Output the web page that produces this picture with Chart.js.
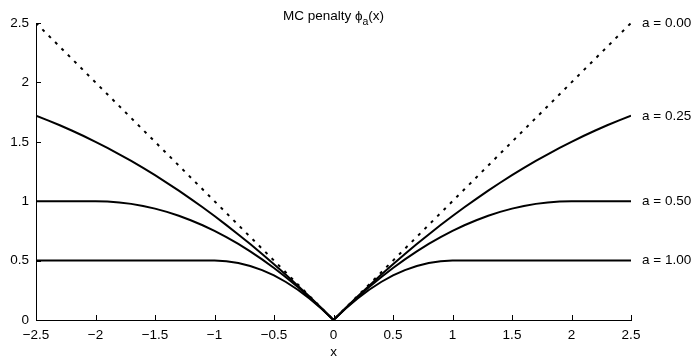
<!DOCTYPE html>
<html>
<head>
<meta charset="utf-8">
<script src="https://cdn.jsdelivr.net/npm/chart.js@4/dist/chart.umd.min.js"></script>
<style>
  html, body { margin: 0; padding: 0; background: #fff; }
  #wrap { width: 700px; height: 361px; position: relative; }
</style>
</head>
<body>
<div id="wrap"><canvas id="c" width="700" height="361"></canvas></div>
<script>
// x positions (step 0.1 from -2.5 to 2.5)
const xValues = [-2.5,-2.4,-2.3,-2.2,-2.1,-2.0,-1.9,-1.8,-1.7,-1.6,-1.5,-1.4,-1.3,-1.2,-1.1,-1.0,-0.9,-0.8,-0.7,-0.6,-0.5,-0.4,-0.3,-0.2,-0.1,0,
  0.1,0.2,0.3,0.4,0.5,0.6,0.7,0.8,0.9,1.0,1.1,1.2,1.3,1.4,1.5,1.6,1.7,1.8,1.9,2.0,2.1,2.2,2.3,2.4,2.5];

const seriesA000 = [2.5,2.4,2.3,2.2,2.1,2.0,1.9,1.8,1.7,1.6,1.5,1.4,1.3,1.2,1.1,1.0,0.9,0.8,0.7,0.6,0.5,0.4,0.3,0.2,0.1,0,
  0.1,0.2,0.3,0.4,0.5,0.6,0.7,0.8,0.9,1.0,1.1,1.2,1.3,1.4,1.5,1.6,1.7,1.8,1.9,2.0,2.1,2.2,2.3,2.4,2.5];

const seriesA025 = [1.719,1.68,1.639,1.595,1.549,1.5,1.449,1.395,1.339,1.28,1.219,1.155,1.089,1.02,0.949,0.875,0.799,0.72,0.639,0.555,0.469,0.38,0.289,0.195,0.099,0,
  0.099,0.195,0.289,0.38,0.469,0.555,0.639,0.72,0.799,0.875,0.949,1.02,1.089,1.155,1.219,1.28,1.339,1.395,1.449,1.5,1.549,1.595,1.639,1.68,1.719];

const seriesA050 = [1,1,1,1,1,1,0.9975,0.99,0.9775,0.96,0.9375,0.91,0.8775,0.84,0.7975,0.75,0.6975,0.64,0.5775,0.51,0.4375,0.36,0.2775,0.19,0.0975,0,
  0.0975,0.19,0.2775,0.36,0.4375,0.51,0.5775,0.64,0.6975,0.75,0.7975,0.84,0.8775,0.91,0.9375,0.96,0.9775,0.99,0.9975,1,1,1,1,1,1];

const seriesA100 = [0.5,0.5,0.5,0.5,0.5,0.5,0.5,0.5,0.5,0.5,0.5,0.5,0.5,0.5,0.5,0.5,0.495,0.48,0.455,0.42,0.375,0.32,0.255,0.18,0.095,0,
  0.095,0.18,0.255,0.32,0.375,0.42,0.455,0.48,0.495,0.5,0.5,0.5,0.5,0.5,0.5,0.5,0.5,0.5,0.5,0.5,0.5,0.5,0.5,0.5,0.5];

const seriesLabels = ['a = 0.00','a = 0.25','a = 0.50','a = 1.00'];

const xTickValues = [-2.5,-2,-1.5,-1,-0.5,0,0.5,1,1.5,2,2.5];
const xTickLabels = ['\u22122.5','\u22122','\u22121.5','\u22121','\u22120.5','0','0.5','1','1.5','2','2.5'];
const yTickValues = [0,0.5,1,1.5,2,2.5];
const yTickLabels = ['0','0.5','1','1.5','2','2.5'];

const FONT = '"Liberation Sans", Arial, Helvetica, sans-serif';
const FS = 13.5;

function pts(ys) { return xValues.map((x, i) => ({x: x, y: ys[i]})); }

const allSeries = [seriesA000, seriesA025, seriesA050, seriesA100];

const datasets = allSeries.map((s, i) => ({
  label: seriesLabels[i],
  data: pts(s),
  borderColor: '#000',
  borderWidth: 2,
  borderDash: i === 0 ? [3, 6] : [],
  pointRadius: 0,
  tension: 0,
  fill: false
}));

function labelFor(vals, labels, v) {
  for (let i = 0; i < vals.length; i++) if (Math.abs(vals[i] - v) < 1e-9) return labels[i];
  return '';
}

const decorPlugin = {
  id: 'decor',
  afterDraw(chart) {
    const ctx = chart.ctx;
    const xs = chart.scales.x, ys = chart.scales.y;
    const ca = chart.chartArea;
    ctx.save();
    // inward ticks
    ctx.strokeStyle = '#000';
    ctx.lineWidth = 1;
    ctx.beginPath();
    xTickValues.forEach(v => {
      const px = Math.round(xs.getPixelForValue(v)) + 0.5;
      ctx.moveTo(px, ca.bottom);
      ctx.lineTo(px, ca.bottom - 5);
    });
    yTickValues.forEach(v => {
      const py = Math.round(ys.getPixelForValue(v)) + 0.5;
      ctx.moveTo(ca.left, py);
      ctx.lineTo(ca.left + 5, py);
    });
    ctx.stroke();

    // series labels at right
    ctx.fillStyle = '#000';
    ctx.font = FS + 'px ' + FONT;
    ctx.textAlign = 'left';
    ctx.textBaseline = 'middle';
    allSeries.forEach((s, i) => {
      const py = ys.getPixelForValue(s[s.length - 1]);
      ctx.fillText(seriesLabels[i], ca.right + 11, py);
    });

    // title with subscript
    const t1 = 'MC penalty \u03D5', t2 = 'a', t3 = '(x)';
    ctx.textBaseline = 'alphabetic';
    ctx.font = FS + 'px ' + FONT;
    const w1 = ctx.measureText(t1).width;
    const w3 = ctx.measureText(t3).width;
    ctx.font = '10.5px ' + FONT;
    const w2 = ctx.measureText(t2).width;
    const total = w1 + w2 + w3;
    let x0 = (ca.left + ca.right) / 2 - total / 2;
    const base = 20;
    ctx.font = FS + 'px ' + FONT;
    ctx.fillText(t1, x0, base);
    ctx.font = '10.5px ' + FONT;
    ctx.fillText(t2, x0 + w1, base + 5);
    ctx.font = FS + 'px ' + FONT;
    ctx.fillText(t3, x0 + w1 + w2, base);
    ctx.restore();
  }
};

new Chart(document.getElementById('c'), {
  type: 'line',
  data: { datasets: datasets },
  options: {
    responsive: false,
    animation: false,
    events: [],
    layout: { padding: { left: 0, right: 69, top: 23, bottom: 0 } },
    plugins: { legend: { display: false }, tooltip: { enabled: false }, title: { display: false } },
    scales: {
      x: {
        type: 'linear',
        min: -2.5, max: 2.5,
        afterFit(scale) { scale.height = 41; },
        afterBuildTicks(scale) { scale.ticks = xTickValues.map(v => ({value: v})); },
        grid: { display: false, drawTicks: false },
        border: { display: true, color: '#000', width: 1 },
        ticks: {
          color: '#000',
          font: { family: FONT, size: FS },
          padding: 7,
          maxRotation: 0,
          autoSkip: false,
          callback: (v) => labelFor(xTickValues, xTickLabels, v)
        },
        title: { display: true, text: 'x', color: '#000', font: { family: FONT, size: FS }, padding: { top: 0, bottom: 1 } }
      },
      y: {
        type: 'linear',
        min: 0, max: 2.5,
        afterFit(scale) { scale.width = 36; },
        afterBuildTicks(scale) { scale.ticks = yTickValues.map(v => ({value: v})); },
        grid: { display: false, drawTicks: false },
        border: { display: true, color: '#000', width: 1 },
        ticks: {
          color: '#000',
          font: { family: FONT, size: FS },
          padding: 7,
          autoSkip: false,
          callback: (v) => labelFor(yTickValues, yTickLabels, v)
        }
      }
    }
  },
  plugins: [decorPlugin]
});
</script>
</body>
</html>
